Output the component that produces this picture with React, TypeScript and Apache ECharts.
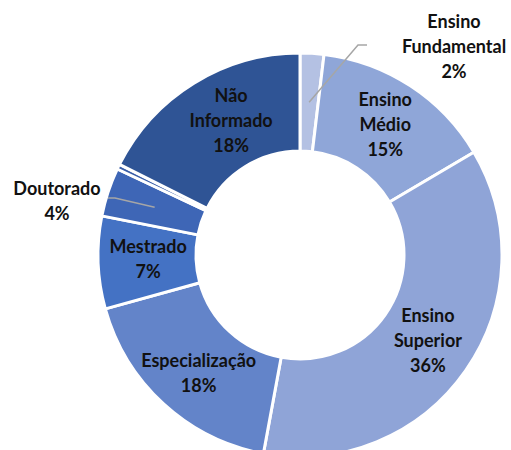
import React, { useEffect, useRef } from "react";
import * as echarts from "echarts";

const categories = [
  "Ensino\nFundamental",
  "Ensino\nMédio",
  "Ensino\nSuperior",
  "Especialização",
  "Mestrado",
  "Doutorado",
  "Pós-Doutorado",
  "Não\nInformado",
];
const values = [1.9, 14.6, 36.4, 17.8, 7.4, 3.9, 0.4, 17.6];
const colors = ["#b4c1e3", "#8fa6d8", "#8fa4d7", "#6384c9", "#4472c4", "#3e66b6", "#3a5ea8", "#2f5495"];

const CX = 300;
const CY = 255;
const R_IN = 104;
const R_OUT = 202;

// outside label placements (dataIndex -> label anchor & leader elbow)
const outsideLabels: Record<number, { x: number; y: number; elbow: [number, number]; end: [number, number] }> = {
  0: { x: 454, y: 46, elbow: [358, 45], end: [367, 45] },
  5: { x: 57, y: 200, elbow: [115, 198], end: [108, 198] },
};
const hiddenLabels = [6];
// small nudges of inside labels (dataIndex -> [dx, dy])
const insideOffsets: Record<number, [number, number]> = {
  2: [0, -4],
  3: [4, 2],
  4: [4, -2],
  7: [13, -2],
};

const labelStyle = {
  formatter: (p: any) => `${p.name}\n${Math.round(p.value)}%`,
  fontFamily: "Lato",
  fontWeight: "bold",
  fontSize: 18,
  lineHeight: 25,
  color: "#111111",
  align: "center",
};

export default function App() {
  const ref = useRef<HTMLDivElement>(null);
  useEffect(() => {
    document.body.style.margin = "0";
    const chart = echarts.init(ref.current!, undefined, { renderer: "svg" });
    const rMid = (R_IN + R_OUT) / 2;

    const baseData = categories.map((name, i) => {
      const inside = outsideLabels[i] === undefined && !hiddenLabels.includes(i);
      return {
        name,
        value: values[i],
        itemStyle: { color: colors[i] },
        label: { show: inside, position: "inside", offset: insideOffsets[i] || [0, 0] },
      };
    });
    const overlayData = categories.map((name, i) => {
      const outside = outsideLabels[i] !== undefined;
      return {
        name,
        value: values[i],
        label: { show: outside, position: "outside" },
        labelLine: { show: outside },
      };
    });

    chart.setOption({
      animation: false,
      backgroundColor: "#ffffff",
      series: [
        {
          type: "pie",
          z: 2,
          center: [CX, CY],
          radius: [R_IN, R_OUT],
          startAngle: 90,
          clockwise: true,
          avoidLabelOverlap: false,
          itemStyle: { borderColor: "#ffffff", borderWidth: 3 },
          label: labelStyle,
          labelLine: { show: false },
          data: baseData,
        },
        {
          type: "pie",
          z: 5,
          silent: true,
          center: [CX, CY],
          radius: [R_IN, R_OUT],
          startAngle: 90,
          clockwise: true,
          avoidLabelOverlap: false,
          itemStyle: { color: "rgba(0,0,0,0)", borderWidth: 0 },
          label: labelStyle,
          labelLine: {
            showAbove: true,
            length: 10,
            length2: 20,
            lineStyle: { color: "#a6a6a6", width: 1.5 },
          },
          labelLayout: (params: any) => {
            const cfg = outsideLabels[params.dataIndex];
            if (!cfg || !params.labelLinePoints) return {};
            const p0 = params.labelLinePoints[0];
            const dx = p0[0] - CX;
            const dy = p0[1] - CY;
            const len = Math.sqrt(dx * dx + dy * dy) || 1;
            const inner = [CX + (dx / len) * rMid, CY + (dy / len) * rMid];
            return {
              x: cfg.x,
              y: cfg.y,
              align: "center",
              verticalAlign: "middle",
              labelLinePoints: [inner, cfg.elbow, cfg.end],
            };
          },
          data: overlayData,
        },
      ],
    });
    return () => chart.dispose();
  }, []);
  return <div ref={ref} style={{ width: 511, height: 450 }} />;
}
